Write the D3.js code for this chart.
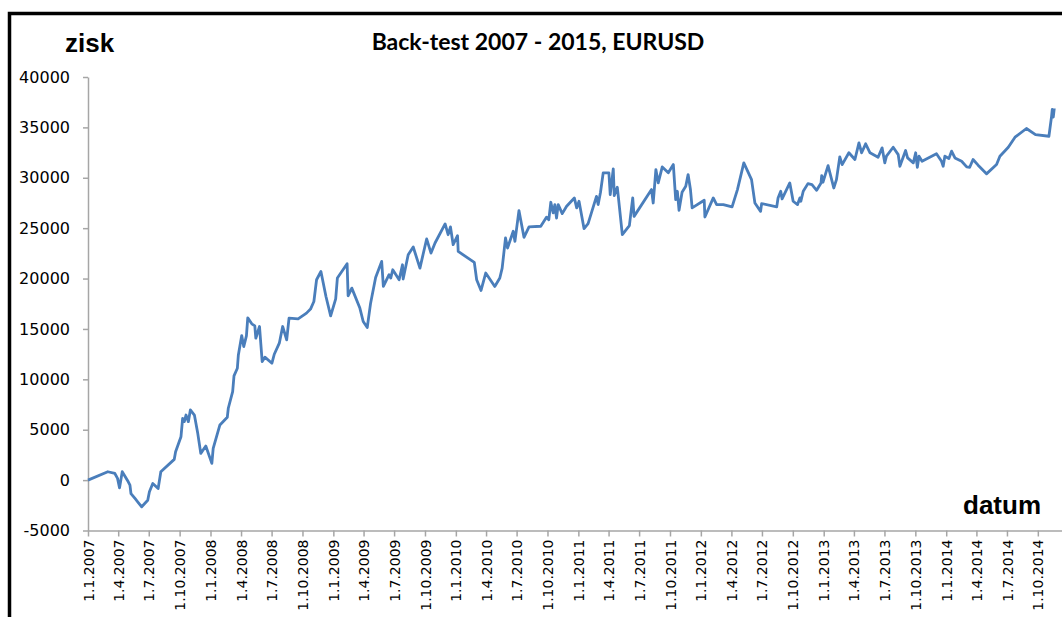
<!DOCTYPE html>
<html>
<head>
<meta charset="utf-8">
<script src="https://cdn.jsdelivr.net/npm/d3@7"></script>
<style>
  html, body { margin: 0; padding: 0; background: #fff; }
  svg { display: block; }
</style>
</head>
<body>
<div id="chart"></div>
<script>
// back-test equity curve, EURUSD 2007 - 2015
const chartTitle = 'Back-test 2007 - 2015, EURUSD';
const yLabel = 'zisk';
const xLabel = 'datum';

const dates = [
    '2007-01-01','2007-03-01','2007-03-22','2007-03-30','2007-04-05','2007-04-13','2007-05-01','2007-05-06',
    '2007-05-09','2007-05-21','2007-05-29','2007-06-10','2007-06-28','2007-07-03','2007-07-13','2007-07-29',
    '2007-08-06','2007-09-15','2007-09-19','2007-10-05','2007-10-10','2007-10-15','2007-10-20','2007-10-27',
    '2007-11-02','2007-11-14','2007-11-24','2007-12-03','2007-12-18','2008-01-05','2008-01-09','2008-01-29',
    '2008-02-20','2008-02-23','2008-03-07','2008-03-11','2008-03-21','2008-03-24','2008-04-03','2008-04-09',
    '2008-04-17','2008-04-21','2008-05-03','2008-05-12','2008-05-15','2008-05-26','2008-06-03','2008-06-11',
    '2008-07-02','2008-07-09','2008-07-24','2008-08-03','2008-08-15','2008-08-22','2008-09-18','2008-10-13',
    '2008-10-25','2008-11-04','2008-11-12','2008-11-25','2008-12-10','2008-12-24','2009-01-08','2009-01-13',
    '2009-02-11','2009-02-14','2009-02-25','2009-03-21','2009-03-31','2009-04-12','2009-04-22','2009-05-07',
    '2009-05-25','2009-05-30','2009-06-16','2009-06-21','2009-06-27','2009-07-16','2009-07-26','2009-07-28',
    '2009-08-12','2009-08-27','2009-09-16','2009-09-24','2009-10-06','2009-10-19','2009-10-31','2009-11-30',
    '2009-12-09','2009-12-16','2009-12-24','2010-01-06','2010-01-08','2010-02-25','2010-03-04','2010-03-17',
    '2010-03-31','2010-04-27','2010-05-12','2010-05-19','2010-05-29','2010-06-04','2010-06-21','2010-06-26',
    '2010-07-08','2010-07-23','2010-08-07','2010-09-11','2010-09-28','2010-10-05','2010-10-11','2010-10-18',
    '2010-10-23','2010-10-28','2010-11-02','2010-11-14','2010-11-27','2010-12-20','2010-12-27','2011-01-03',
    '2011-01-18','2011-01-30','2011-02-24','2011-03-01','2011-03-08','2011-03-16','2011-04-02','2011-04-06',
    '2011-04-15','2011-04-18','2011-04-27','2011-04-30','2011-05-12','2011-06-02','2011-06-12','2011-06-16',
    '2011-08-07','2011-08-12','2011-08-20','2011-08-27','2011-09-08','2011-09-26','2011-10-11','2011-10-18',
    '2011-10-23','2011-10-28','2011-11-06','2011-11-17','2011-11-24','2011-12-01','2011-12-06','2012-01-11',
    '2012-01-13','2012-02-07','2012-02-17','2012-03-08','2012-04-03','2012-04-19','2012-05-08','2012-05-31',
    '2012-06-10','2012-06-27','2012-06-30','2012-08-14','2012-08-18','2012-08-26','2012-08-30','2012-09-22',
    '2012-10-02','2012-10-15','2012-10-22','2012-10-25','2012-11-01','2012-11-15','2012-11-27','2012-12-11',
    '2012-12-24','2012-12-26','2012-12-30','2013-01-14','2013-01-31','2013-02-08','2013-02-18','2013-02-25',
    '2013-03-17','2013-04-04','2013-04-16','2013-04-24','2013-05-06','2013-05-19','2013-06-12','2013-06-24',
    '2013-07-02','2013-07-07','2013-07-27','2013-08-11','2013-08-16','2013-09-02','2013-09-08','2013-09-25',
    '2013-10-02','2013-10-07','2013-10-12','2013-10-21','2013-12-03','2013-12-18','2013-12-23','2013-12-28',
    '2014-01-09','2014-01-17','2014-01-27','2014-02-16','2014-03-03','2014-03-12','2014-03-22','2014-04-06',
    '2014-05-01','2014-05-31','2014-06-10','2014-07-05','2014-07-25','2014-08-28','2014-09-24','2014-11-03',
    '2014-11-11','2014-11-13','2014-11-16','2014-11-19'
];

const profit = [
    0, 830, 660, 170, -770, 830, -170, -500,
    -1330, -1820, -2150, -2650, -2000, -1160, -330, -830,
    830, 2060, 2810, 4300, 6130, 5800, 6460, 5800,
    6960, 6460, 4640, 2650, 3380, 1660, 3150, 5470,
    6230, 7130, 8780, 10340, 11100, 12420, 14340, 13250,
    14310, 16100, 15510, 15310, 14080, 15240, 11760, 12200,
    11600, 12490, 13590, 15240, 13920, 16070, 16000, 16570,
    16970, 17720, 19880, 20700, 18220, 16300, 17990, 20050,
    21470, 18290, 19050, 17070, 15740, 15140, 17560, 20110,
    21700, 19220, 20380, 20050, 20870, 19880, 21370, 19950,
    22370, 23130, 21040, 22200, 23930, 22530, 23530, 25420,
    24350, 25120, 23360, 24250, 22690, 21600, 19880, 18820,
    20550, 19220, 20050, 21040, 24030, 23030, 24690, 23690,
    26740, 24090, 25120, 25190, 26090, 25840, 27570, 26510,
    27340, 26010, 27340, 26440, 27170, 28000, 27010, 27670,
    24950, 25450, 28160, 27340, 28560, 30490, 30490, 28330,
    30880, 28230, 29060, 28160, 24350, 25250, 28000, 26170,
    28830, 27500, 30810, 29500, 31080, 30490, 31310, 27830,
    28660, 26770, 28560, 29160, 30320, 28830, 27010, 27770,
    26110, 28000, 27340, 27340, 27110, 28830, 31480, 29820,
    27500, 26670, 27440, 27110, 28000, 28660, 27900, 29490,
    27670, 27340, 28000, 27670, 28660, 29420, 29320, 28760,
    29490, 30220, 29560, 31210, 28990, 29820, 32080, 31310,
    32480, 31810, 33470, 32480, 33370, 32480, 32040, 32970,
    31480, 32140, 33030, 32300, 31140, 32700, 31970, 31480,
    32480, 31040, 32140, 31640, 32380, 31640, 31140, 32140,
    31910, 32640, 31970, 31640, 31080, 31040, 31810, 31250,
    30390, 31310, 32140, 33030, 34030, 34890, 34290, 34120,
    36120, 36790, 36020, 36890
];

const yTicks = [-5000, 0, 5000, 10000, 15000, 20000, 25000, 30000, 35000, 40000];
const xStart = '2007-01-01';
const xEnd = '2014-12-12';
const lastTick = '2014-10-01';

const width = 1062, height = 617;
const parseDate = d3.timeParse('%Y-%m-%d');
const fmtDate = d3.timeFormat('%-d.%-m.%Y');

const series = dates.map((d, i) => ({ date: parseDate(d), value: profit[i] }));

const svg = d3.select('#chart')
    .append('svg')
    .attr('width', width)
    .attr('height', height);

// frame of the chart area (cut by the screenshot on the right and bottom)
svg.append('rect')
    .attr('x', 9.5)
    .attr('y', 13.5)
    .attr('width', 1100)
    .attr('height', 700)
    .attr('fill', 'none')
    .attr('stroke', '#000')
    .attr('stroke-width', 3.5);

const x = d3.scaleTime()
    .domain([parseDate(xStart), parseDate(xEnd)])
    .range([88, 1062]);

const y = d3.scaleLinear()
    .domain([-5000, 40000])
    .range([530.5, 77]);

const quarterTicks = d3.timeMonth.every(3).range(parseDate(xStart), d3.timeDay.offset(parseDate(lastTick), 1));

const xAxis = svg.append('g')
    .attr('transform', `translate(0, ${y(-5000)})`)
    .call(d3.axisBottom(x)
        .tickValues(quarterTicks)
        .tickFormat(fmtDate)
        .tickSize(6)
        .tickSizeOuter(0));

xAxis.selectAll('text')
    .attr('transform', 'rotate(-90)')
    .attr('x', -9)
    .attr('y', 0)
    .attr('dy', '.36em')
    .style('text-anchor', 'end');

// plain hyphen for negatives, like the original
const yAxis = svg.append('g')
    .attr('transform', `translate(${x(parseDate(xStart))}, 0)`)
    .call(d3.axisLeft(y)
        .tickValues(yTicks)
        .tickFormat(d => String(d))
        .tickSize(5)
        .tickPadding(13)
        .tickSizeOuter(0));

xAxis.style('font-family', '"DejaVu Sans", sans-serif').style('font-size', '14px');
yAxis.style('font-family', '"DejaVu Sans", sans-serif').style('font-size', '16px');

svg.selectAll('.domain, .tick line')
    .attr('stroke', '#a6a6a6')
    .attr('stroke-width', 1.5);
svg.selectAll('.tick text').attr('fill', '#000');

const line = d3.line()
    .x(d => x(d.date))
    .y(d => y(d.value));

svg.append('path')
    .datum(series)
    .attr('d', line)
    .attr('fill', 'none')
    .attr('stroke', '#4a7ebb')
    .attr('stroke-width', 2.8)
    .attr('stroke-linejoin', 'round');

svg.append('text')
    .attr('x', 538)
    .attr('y', 50)
    .attr('text-anchor', 'middle')
    .style('font-family', 'Lato, sans-serif')
    .style('font-weight', 'bold')
    .style('font-size', '23px')
    .text(chartTitle);

svg.append('text')
    .attr('x', 65)
    .attr('y', 52)
    .style('font-family', '"Liberation Sans", Arial, sans-serif')
    .style('font-weight', 'bold')
    .style('font-size', '26px')
    .text(yLabel);

svg.append('text')
    .attr('x', 1041)
    .attr('y', 514)
    .attr('text-anchor', 'end')
    .style('font-family', '"Liberation Sans", Arial, sans-serif')
    .style('font-weight', 'bold')
    .style('font-size', '26px')
    .text(xLabel);
</script>
</body>
</html>
